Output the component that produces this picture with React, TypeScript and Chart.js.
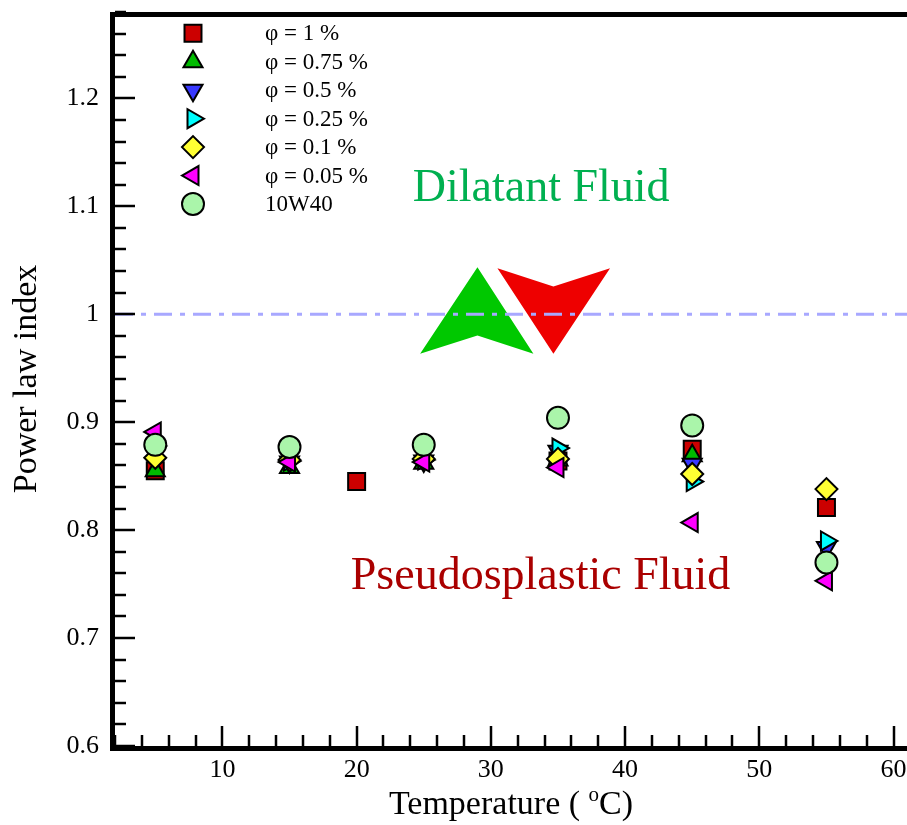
import React, { useEffect, useRef } from 'react';
import { Chart, registerables } from 'chart.js';

Chart.register(...registerables);

const FONT = "'Liberation Serif', 'Times New Roman', serif";

// ---- data ----
const seriesLabels = ['φ = 1 %', 'φ = 0.75 %', 'φ = 0.5 %', 'φ = 0.25 %', 'φ = 0.1 %', 'φ = 0.05 %', '10W40'];

const tempPhi1 = [5, 20, 35, 45, 55];
const nPhi1 = [0.855, 0.845, 0.864, 0.875, 0.821];

const tempPhi075 = [5, 15, 25, 35, 45];
const nPhi075 = [0.855, 0.858, 0.862, 0.865, 0.869];

const tempPhi05 = [5, 15, 25, 35, 45, 55];
const nPhi05 = [0.877, 0.863, 0.864, 0.873, 0.861, 0.784];

const tempPhi025 = [5, 15, 25, 35, 45, 55];
const nPhi025 = [0.878, 0.864, 0.865, 0.876, 0.845, 0.79];

const tempPhi01 = [5, 15, 25, 35, 45, 55];
const nPhi01 = [0.867, 0.865, 0.866, 0.866, 0.852, 0.838];

const tempPhi005 = [5, 15, 25, 35, 45, 55];
const nPhi005 = [0.891, 0.863, 0.863, 0.858, 0.807, 0.753];

const tempOil = [5, 15, 25, 35, 45, 55];
const nOil = [0.879, 0.877, 0.879, 0.904, 0.897, 0.77];

const seriesTemps = [tempPhi1, tempPhi075, tempPhi05, tempPhi025, tempPhi01, tempPhi005, tempOil];
const seriesValues = [nPhi1, nPhi075, nPhi05, nPhi025, nPhi01, nPhi005, nOil];

const xTickValues = [10, 20, 30, 40, 50, 60];
const xTickLabels = ['10', '20', '30', '40', '50', '60'];
const yTickValues = [0.6, 0.7, 0.8, 0.9, 1.0, 1.1, 1.2];
const yTickLabels = ['0.6', '0.7', '0.8', '0.9', '1', '1.1', '1.2'];
const xMin = 2;
const xMax = 61;
const yMin = 0.6;
const yMax = 1.28;
const xMinorStep = 2;
const yMinorStep = 0.02;

const referenceLineX = [2, 61];
const referenceLineY = [1.0, 1.0];

// arrow polygons (data coordinates)
const upArrowX = [29.0, 33.17, 29.0, 24.73];
const upArrowY = [1.0436, 0.9633, 0.9803, 0.9633];
const downArrowX = [30.49, 34.66, 38.88, 34.66];
const downArrowY = [1.0427, 1.0257, 1.0427, 0.9633];

const annotationTexts = ['Dilatant Fluid', 'Pseudosplastic Fluid'];
const annotationX = [33.75, 33.7];
const annotationY = [1.116, 0.757];
const annotationColors = ['#00b050', '#aa0000'];

// ---- styles ----
const markerStyles = ['rect', 'triangle', 'triangle', 'triangle', 'rectRot', 'triangle', 'circle'];
const markerRotations = [0, 0, 180, 90, 0, 270, 0];
const markerColors = ['#cc0000', '#00bb00', '#3838ff', '#00ffff', '#ffff33', '#ff00ff', '#aaf5aa'];
const markerRadii = [12, 11, 11, 11, 11, 11, 11];

function drawMarker(ctx: CanvasRenderingContext2D, style: string, rotationDeg: number, r: number, x: number, y: number) {
  const rad = (rotationDeg * Math.PI) / 180;
  ctx.beginPath();
  if (style === 'circle') {
    ctx.arc(x, y, r, 0, Math.PI * 2);
  } else if (style === 'rect') {
    const s = Math.SQRT1_2 * r;
    ctx.rect(x - s, y - s, 2 * s, 2 * s);
  } else if (style === 'rectRot') {
    ctx.moveTo(x - r, y);
    ctx.lineTo(x, y + r);
    ctx.lineTo(x + r, y);
    ctx.lineTo(x, y - r);
    ctx.closePath();
  } else {
    let a = rad;
    ctx.moveTo(x + Math.sin(a) * r, y - Math.cos(a) * r);
    a += (2 * Math.PI) / 3;
    ctx.lineTo(x + Math.sin(a) * r, y - Math.cos(a) * r);
    a += (2 * Math.PI) / 3;
    ctx.lineTo(x + Math.sin(a) * r, y - Math.cos(a) * r);
    ctx.closePath();
  }
  ctx.fill();
  ctx.stroke();
}

const zeroPadding = (scale: any) => {
  scale.paddingLeft = 0;
  scale.paddingRight = 0;
  scale.paddingTop = 0;
  scale.paddingBottom = 0;
};

const decorPlugin = {
  id: 'decor',
  beforeDatasetsDraw(chart: any) {
    const { ctx, scales } = chart;
    const xs = scales.x;
    const ys = scales.y;
    const polys = [
      { px: upArrowX, py: upArrowY, color: '#00c800' },
      { px: downArrowX, py: downArrowY, color: '#ee0000' },
    ];
    ctx.save();
    for (const p of polys) {
      ctx.beginPath();
      p.px.forEach((vx, i) => {
        const X = xs.getPixelForValue(vx);
        const Y = ys.getPixelForValue(p.py[i]);
        if (i === 0) ctx.moveTo(X, Y);
        else ctx.lineTo(X, Y);
      });
      ctx.closePath();
      ctx.fillStyle = p.color;
      ctx.fill();
    }
    ctx.font = `46px ${FONT}`;
    ctx.textAlign = 'center';
    ctx.textBaseline = 'middle';
    annotationTexts.forEach((t, i) => {
      ctx.fillStyle = annotationColors[i];
      ctx.fillText(t, xs.getPixelForValue(annotationX[i]), ys.getPixelForValue(annotationY[i]));
    });
    ctx.restore();
  },
  afterDraw(chart: any) {
    const { ctx, chartArea, scales } = chart;
    const xs = scales.x;
    const ys = scales.y;
    const { left, right, top, bottom } = chartArea;
    ctx.save();
    ctx.strokeStyle = '#000';
    ctx.lineCap = 'butt';
    ctx.lineWidth = 2.5;
    for (let v = yMin; v <= yMax + 1e-9; v += yMinorStep) {
      const vv = Math.round(v * 100) / 100;
      const isMajor = yTickValues.some((t) => Math.abs(t - vv) < 1e-6);
      const Y = Math.round(ys.getPixelForValue(vv));
      ctx.beginPath();
      ctx.moveTo(left, Y);
      ctx.lineTo(left + (isMajor ? 20 : 11), Y);
      ctx.stroke();
    }
    for (let v = xMin; v <= xMax + 1e-9; v += xMinorStep) {
      const isMajor = xTickValues.includes(v);
      const X = Math.round(xs.getPixelForValue(v));
      ctx.beginPath();
      ctx.moveTo(X, bottom);
      ctx.lineTo(X, bottom - (isMajor ? 20 : 11));
      ctx.stroke();
    }
    ctx.lineWidth = 5;
    ctx.beginPath();
    ctx.moveTo(left - 2.5, top);
    ctx.lineTo(left - 2.5, bottom + 5);
    ctx.moveTo(left - 5, bottom + 2.5);
    ctx.lineTo(right, bottom + 2.5);
    ctx.moveTo(left - 5, top + 2.5);
    ctx.lineTo(right, top + 2.5);
    ctx.stroke();

    // tick labels
    ctx.fillStyle = '#000';
    ctx.font = `26px ${FONT}`;
    ctx.textAlign = 'right';
    ctx.textBaseline = 'middle';
    yTickValues.forEach((v, i) => {
      ctx.fillText(yTickLabels[i], left - 16, ys.getPixelForValue(v));
    });
    ctx.textAlign = 'center';
    ctx.textBaseline = 'alphabetic';
    xTickValues.forEach((v, i) => {
      ctx.fillText(xTickLabels[i], xs.getPixelForValue(v), bottom + 31);
    });

    // axis titles
    ctx.font = `34px ${FONT}`;
    const t1 = 'Temperature ( ';
    const t3 = 'C)';
    const w1 = ctx.measureText(t1).width;
    const w3 = ctx.measureText(t3).width;
    ctx.font = `21px ${FONT}`;
    const t2 = 'o';
    const w2 = ctx.measureText(t2).width;
    const cx = (left + right) / 2;
    const sx = cx - (w1 + w2 + w3) / 2;
    const base = 814;
    ctx.textAlign = 'left';
    ctx.textBaseline = 'alphabetic';
    ctx.font = `34px ${FONT}`;
    ctx.fillText(t1, sx, base);
    ctx.font = `21px ${FONT}`;
    ctx.fillText(t2, sx + w1, base - 13);
    ctx.font = `34px ${FONT}`;
    ctx.fillText(t3, sx + w1 + w2, base);

    ctx.save();
    ctx.translate(27, (top + bottom) / 2);
    ctx.rotate(-Math.PI / 2);
    ctx.textAlign = 'center';
    ctx.textBaseline = 'middle';
    ctx.fillText('Power law index', 0, 0);
    ctx.restore();

    // legend
    ctx.lineWidth = 2;
    ctx.strokeStyle = '#000';
    seriesLabels.forEach((lab, i) => {
      const my = 33.3 + i * 28.45;
      ctx.fillStyle = markerColors[i];
      drawMarker(ctx, markerStyles[i], markerRotations[i], markerRadii[i], 193, my);
      ctx.fillStyle = '#000';
      ctx.font = `23px ${FONT}`;
      ctx.textAlign = 'left';
      ctx.textBaseline = 'middle';
      ctx.fillText(lab, 265, my + 1);
    });
    ctx.restore();
  },
};

export default function App() {
  const canvasRef = useRef<HTMLCanvasElement>(null);

  useEffect(() => {
    const canvas = canvasRef.current;
    if (!canvas) return;
    const datasets: any[] = seriesLabels.map((label, i) => ({
      type: 'scatter',
      label,
      data: seriesTemps[i].map((t, j) => ({ x: t, y: seriesValues[i][j] })),
      pointStyle: markerStyles[i],
      rotation: markerRotations[i],
      pointRadius: markerRadii[i],
      pointHoverRadius: markerRadii[i],
      backgroundColor: markerColors[i],
      borderColor: '#000',
      pointBorderWidth: 2,
      borderWidth: 2,
      showLine: false,
      order: 20 - i,
    }));
    datasets.push({
      type: 'line',
      label: 'n = 1',
      data: referenceLineX.map((x, i) => ({ x, y: referenceLineY[i] })),
      borderColor: '#a8a8ff',
      borderWidth: 3,
      borderDash: [18, 8, 5, 8],
      pointRadius: 0,
      fill: false,
      tension: 0,
      order: 100,
    });

    const chart = new Chart(canvas, {
      type: 'scatter',
      data: { datasets },
      options: {
        animation: false,
        responsive: false,
        devicePixelRatio: 1,
        layout: { autoPadding: false, padding: { top: 12, right: 0, left: 0, bottom: 0 } },
        plugins: {
          legend: { display: false },
          tooltip: { enabled: false },
        },
        scales: {
          x: {
            type: 'linear',
            min: xMin,
            max: xMax,
            afterFit: (scale: any) => {
              scale.height = 79;
              zeroPadding(scale);
            },
            grid: { display: false, drawTicks: false },
            border: { display: false },
            ticks: { display: false },
          },
          y: {
            type: 'linear',
            min: yMin,
            max: yMax,
            afterFit: (scale: any) => {
              scale.width = 115;
              zeroPadding(scale);
            },
            grid: { display: false, drawTicks: false },
            border: { display: false },
            ticks: { display: false },
          },
        },
      },
      plugins: [decorPlugin],
    } as any);
    return () => chart.destroy();
  }, []);

  return (
    <div style={{ position: 'absolute', left: 0, top: 0, width: 907, height: 825 }}>
      <canvas ref={canvasRef} width={907} height={825} style={{ display: 'block', width: 907, height: 825 }} />
    </div>
  );
}
